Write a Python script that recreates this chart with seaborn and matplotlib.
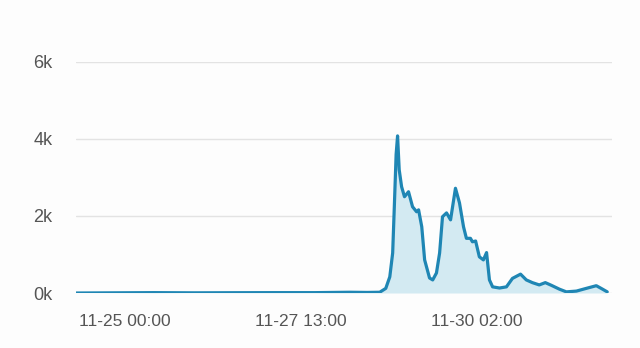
import matplotlib
matplotlib.use("Agg")
import matplotlib.pyplot as plt
import seaborn as sns
import pandas as pd

# ---- data ----
times = [
    "11-24 07:00", "11-24 20:00", "11-25 10:00", "11-26 00:00", "11-26 14:00",
    "11-27 04:00", "11-27 18:00", "11-28 06:00", "11-28 12:00", "11-28 16:24",
    "11-28 18:30", "11-28 19:54", "11-28 20:54", "11-28 21:30", "11-28 22:06",
    "11-28 22:36", "11-28 23:10", "11-29 00:00", "11-29 01:00", "11-29 02:24",
    "11-29 03:48", "11-29 05:12", "11-29 05:54", "11-29 07:00", "11-29 08:00",
    "11-29 09:42", "11-29 10:48", "11-29 12:06", "11-29 13:12", "11-29 14:12",
    "11-29 15:36", "11-29 17:00", "11-29 18:42", "11-29 20:06", "11-29 21:30",
    "11-29 22:30", "11-29 23:54", "11-30 00:36", "11-30 01:42", "11-30 03:00",
    "11-30 04:24", "11-30 05:30", "11-30 06:30", "11-30 07:36", "11-30 10:00",
    "11-30 12:24", "11-30 14:30", "11-30 17:18", "11-30 19:18", "11-30 21:24",
    "11-30 23:48", "12-01 01:54", "12-01 04:00", "12-01 06:48", "12-01 09:12",
    "12-01 12:42", "12-01 16:06", "12-01 19:36", "12-01 21:18", "12-01 23:24",
]
values = [
    0, 5, 10, 5, 8,
    10, 10, 20, 15, 20,
    120, 420, 1040, 2300, 3600,
    4080, 3200, 2760, 2500, 2630,
    2240, 2110, 2160, 1720, 860,
    390, 340, 520, 1040, 1980,
    2080, 1900, 2720, 2340, 1720,
    1420, 1420, 1330, 1350, 940,
    860, 1050, 340, 160, 130,
    160, 380, 490, 340, 270,
    210, 270, 200, 100, 30,
    50, 120, 190, 120, 30,
]

y_ticks = [0, 2000, 4000, 6000]
y_tick_labels = ["0k", "2k", "4k", "6k"]
x_ticks = ["11-25 00:00", "11-27 13:00", "11-30 02:00"]

# ---- build frame ----
df = pd.DataFrame({
    "time": pd.to_datetime(["2023-" + t for t in times], format="%Y-%m-%d %H:%M"),
    "value": values,
})

sns.set_theme(style="white")
plt.rcParams["font.family"] = ["Liberation Sans", "DejaVu Sans"]

fig = plt.figure(figsize=(6.4, 3.48), dpi=100, facecolor="#fdfdfd")
ax = fig.add_axes([0.119, 0.158, 0.837, 0.664])
ax.set_facecolor("#fdfdfd")

line_color = "#1f86b4"
ax.fill_between(df["time"], df["value"], 0, color="#d3eaf2", lw=0, zorder=2)
sns.lineplot(data=df, x="time", y="value", ax=ax, color=line_color, lw=2.3, zorder=3)

ax.set_ylim(0, 6000)
ax.set_xlim(pd.Timestamp("2023-11-24 07:00"), pd.Timestamp("2023-12-02 01:00"))
ax.set_yticks(y_ticks)
ax.set_yticklabels(y_tick_labels)
xt = pd.to_datetime(["2023-" + t for t in x_ticks], format="%Y-%m-%d %H:%M")
ax.set_xticks(xt)
ax.set_xticklabels(x_ticks)

ax.grid(axis="y", color="#e3e3e3", lw=1)
ax.grid(axis="x", visible=False)
for s in ax.spines.values():
    s.set_visible(False)
ax.tick_params(axis="y", length=0, pad=17, labelsize=13, labelcolor="#555555")
ax.tick_params(axis="x", length=0, pad=15, labelsize=12.5, labelcolor="#555555")
ax.set_xlabel("")
ax.set_ylabel("")

fig.savefig("out.png", dpi=100, facecolor=fig.get_facecolor())
